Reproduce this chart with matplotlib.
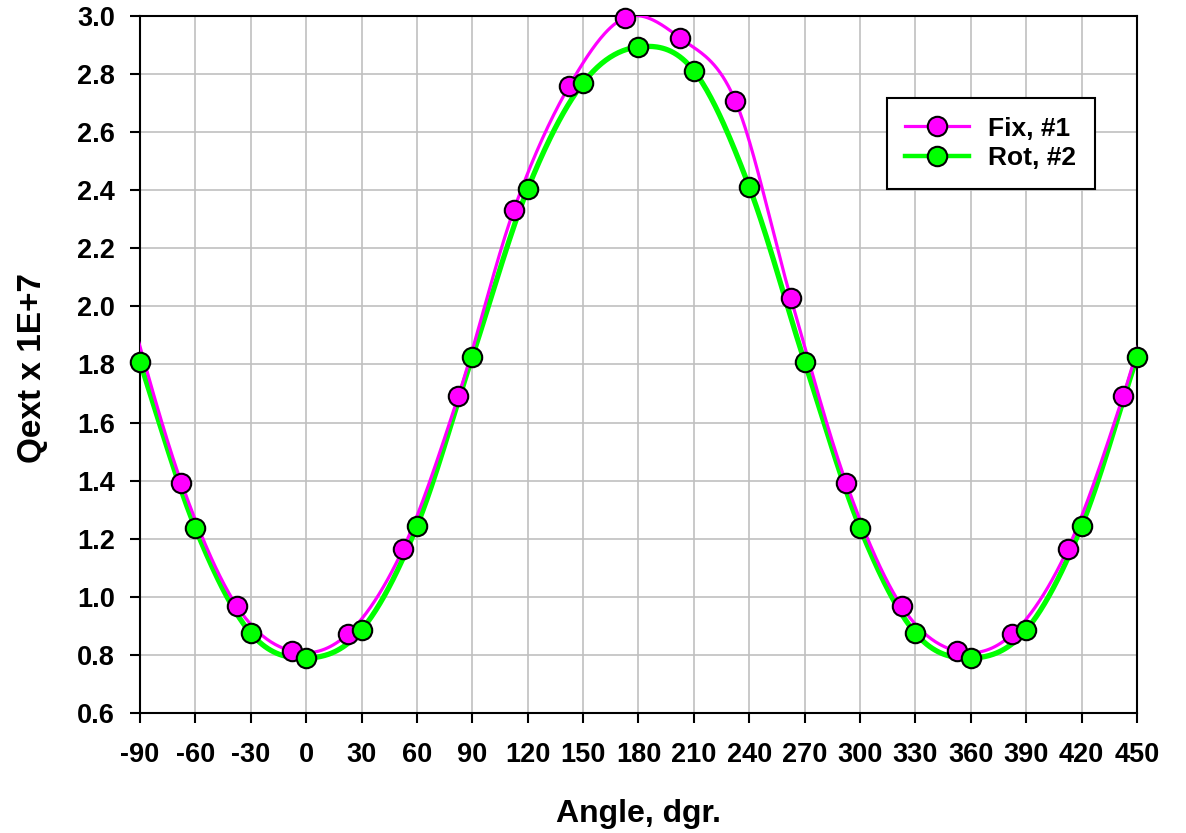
import matplotlib
matplotlib.use('Agg')
import matplotlib.pyplot as plt
import numpy as np

plt.rcParams['font.family'] = ['Liberation Sans', 'DejaVu Sans']
plt.rcParams['font.weight'] = 'bold'
plt.rcParams['axes.unicode_minus'] = False

# data
fix_angle = [-67.5, -37.5, -7.5, 22.5, 52.5, 82.5, 112.5, 142.5, 172.5,
             202.5, 232.5, 262.5, 292.5, 322.5, 352.5, 382.5, 412.5, 442.5]
fix_q = [1.392, 0.968, 0.813, 0.872, 1.165, 1.692, 2.332, 2.759, 2.993,
         2.924, 2.707, 2.029, 1.392, 0.968, 0.813, 0.872, 1.165, 1.692]

rot_angle = [-90, -60, -30, 0, 30, 60, 90, 120, 150, 180, 210, 240, 270,
             300, 330, 360, 390, 420, 450]
rot_q = [1.809, 1.237, 0.875, 0.789, 0.886, 1.244, 1.826, 2.404, 2.769,
         2.893, 2.811, 2.411, 1.809, 1.237, 0.875, 0.789, 0.886, 1.244, 1.826]

x_ticks = list(range(-90, 451, 30))
y_ticks = [0.6, 0.8, 1.0, 1.2, 1.4, 1.6, 1.8, 2.0, 2.2, 2.4, 2.6, 2.8, 3.0]

MAGENTA = '#ff00ff'
GREEN = '#00ff00'


def smooth(x, y, n=40):
    # spreadsheet-style smoothed line (Catmull-Rom through the points)
    x = np.asarray(x, float)
    y = np.asarray(y, float)
    xs, ys = [], []
    for i in range(1, len(x) - 2):
        p0, p1, p2, p3 = [np.array([x[j], y[j]]) for j in range(i - 1, i + 3)]
        c1 = p1 + (p2 - p0) / 6
        c2 = p2 - (p3 - p1) / 6
        t = np.linspace(0, 1, n)[:, None]
        b = ((1 - t) ** 3 * p1 + 3 * (1 - t) ** 2 * t * c1
             + 3 * (1 - t) * t ** 2 * c2 + t ** 3 * p2)
        xs.append(b[:, 0])
        ys.append(b[:, 1])
    return np.concatenate(xs), np.concatenate(ys)


def periodic(x, y, period=360, step=30):
    # add two period-equivalent points on each side so the curve runs to the edges
    x = list(x)
    y = list(y)

    def val(a):
        while a < x[0]:
            a += period
        while a > x[-1]:
            a -= period
        return y[x.index(a)]

    lo = [x[0] - 2 * step, x[0] - step]
    hi = [x[-1] + step, x[-1] + 2 * step]
    return lo + x + hi, [val(a) for a in lo] + y + [val(a) for a in hi]


fig = plt.figure(figsize=(11.86, 8.33), dpi=100)
ax = fig.add_axes([0.118, 0.144, 0.8407, 0.837])

fx, fy = smooth(*periodic(fix_angle, fix_q))
rx, ry = smooth(*periodic(rot_angle[:-1], rot_q[:-1]))
ax.plot(rx, ry, color=GREEN, lw=3.8, zorder=3)
ax.plot(fx, fy, color=MAGENTA, lw=2.3, zorder=3)

ax.plot(fix_angle, fix_q, ls='none', marker='o', ms=14, mfc=MAGENTA,
        mec='black', mew=1.5, zorder=4, clip_on=False)
ax.plot(rot_angle, rot_q, ls='none', marker='o', ms=14, mfc=GREEN,
        mec='black', mew=1.5, zorder=5, clip_on=False)

# legend proxies
h1, = ax.plot([], [], color=MAGENTA, lw=2.3, marker='o', ms=14,
              mfc=MAGENTA, mec='black', mew=1.5)
h2, = ax.plot([], [], color=GREEN, lw=3.2, marker='o', ms=14,
              mfc=GREEN, mec='black', mew=1.5)
leg = ax.legend([h1, h2], ['Fix, #1', 'Rot, #2'], loc='upper left',
                bbox_to_anchor=(0.749, 0.882), fontsize=19, fancybox=False,
                framealpha=1, edgecolor='black', borderpad=0.7,
                borderaxespad=0, handlelength=2.4, handletextpad=0.75,
                labelspacing=0.22)
leg.get_frame().set_linewidth(1.5)

ax.set_xlim(-90, 450)
ax.set_ylim(0.6, 3.0)
ax.set_xticks(x_ticks)
ax.set_yticks(y_ticks)
ax.set_yticklabels([f'{v:.1f}' for v in y_ticks])
ax.grid(True, color='#c0c0c0', lw=1.2)
ax.set_axisbelow(True)
ax.tick_params(direction='out', length=7, width=1.5, labelsize=19.5)
ax.tick_params(axis='y', pad=11)
ax.tick_params(axis='x', pad=14)
for s in ax.spines.values():
    s.set_linewidth(1.5)

fig.text(638.5 / 1186, 1 - 822 / 833, 'Angle, dgr.', fontsize=23,
         fontweight='bold', ha='center', va='baseline')
fig.text(33 / 1186, 1 - 368 / 833, 'Qext x 1E+7', fontsize=24,
         fontweight='bold', ha='center', va='center', rotation=90)

fig.savefig('out.png', dpi=100)
